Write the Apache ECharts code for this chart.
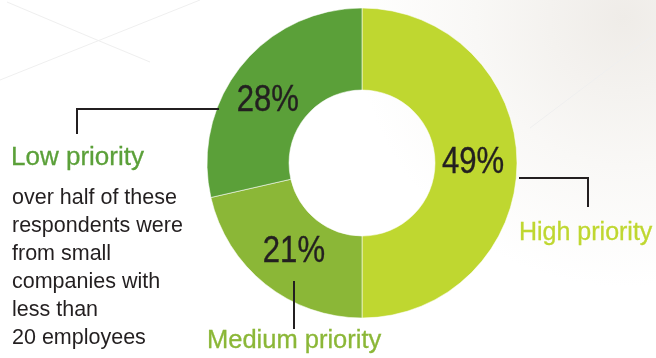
<!DOCTYPE html>
<html>
<head>
<meta charset="utf-8">
<script src="https://cdn.jsdelivr.net/npm/echarts@6/dist/echarts.min.js"></script>
<style>
  html, body { margin: 0; padding: 0; background: #ffffff; }
  #chart { width: 656px; height: 358px; }
</style>
</head>
<body>
<div id="chart"></div>
<script>
// ---- data ----
var categories = ['High priority', 'Medium priority', 'Low priority'];
var values = [49, 21, 28];
var colors = ['#bfd730', '#8bb737', '#5ba039'];
var noteLines = ['over half of these', 'respondents were', 'from small', 'companies with', 'less than', '20 employees'];

var chart = echarts.init(document.getElementById('chart'), null, { renderer: 'canvas' });
var ink = '#231f20';
var labelFont = '"Liberation Sans", Arial, sans-serif';

var baseGraphics = [];
// faint background plank lines
[[[0, 80], [200, 0]], [[7, 2], [97, 40], [150, 62]], [[530, 128], [656, 33]]].forEach(function (p) {
  baseGraphics.push({ type: 'polyline', silent: true, z: -10, shape: { points: p }, style: { stroke: '#efefef', lineWidth: 1, fill: null } });
});
// leader lines
var leaders = [
  [[519, 178], [588, 178], [588, 207]],
  [[294, 281], [294, 329]],
  [[219, 109], [77, 109], [77, 134]]
];
leaders.forEach(function (p) {
  baseGraphics.push({ type: 'polyline', z: 50, shape: { points: p }, style: { stroke: ink, lineWidth: 2, fill: null } });
});
// category names
var namePos = [[519, 233, 25], [207, 341, 25.5], [11, 157.5, 26]];
categories.forEach(function (c, i) {
  baseGraphics.push({ type: 'text', x: namePos[i][0], y: namePos[i][1], z: 50,
    style: { text: c, fill: colors[i], stroke: colors[i], lineWidth: 0.3, font: namePos[i][2] + 'px ' + labelFont, align: 'left', verticalAlign: 'middle' } });
});
// note
noteLines.forEach(function (t, i) {
  baseGraphics.push({ type: 'text', x: 12, y: 198 + i * 28, z: 50,
    style: { text: t, fill: ink, font: '21.5px ' + labelFont, align: 'left', verticalAlign: 'middle' } });
});

chart.setOption({
  backgroundColor: {
    type: 'radial', x: 0.95, y: 0.05, r: 0.75,
    colorStops: [{ offset: 0, color: '#efece8' }, { offset: 0.55, color: '#f9f8f6' }, { offset: 1, color: '#ffffff' }]
  },
  animation: false,
  series: [{
    type: 'pie',
    z: 2,
    center: [362, 163],
    radius: [73, 155],
    startAngle: 90,
    clockwise: true,
    itemStyle: { borderColor: 'rgba(255,255,255,0.55)', borderWidth: 1 },
    label: { show: false },
    labelLine: { show: false },
    data: categories.map(function (c, i) {
      return { name: c, value: values[i], itemStyle: { color: colors[i] } };
    })
  }],
  graphic: baseGraphics
});

// percentage labels placed from the pie's own computed layout
var labelShift = [[-3, 0], [3, 0], [-5, 9]];
var extra = [];
try {
  var pieData = chart.getModel().getSeriesByIndex(0).getData();
  values.forEach(function (v, i) {
    var L = pieData.getItemLayout(i);
    var mid = (L.startAngle + L.endAngle) / 2;
    var rm = (L.r0 + L.r) / 2;
    var x = L.cx + rm * Math.cos(mid) + labelShift[i][0];
    var y = L.cy + rm * Math.sin(mid) + labelShift[i][1];
    extra.push({ type: 'text', x: x, y: y, z: 100, zlevel: 0, scaleX: 0.84, scaleY: 1,
      style: { text: v + '%', fill: ink, stroke: ink, lineWidth: 0.4, font: '37px ' + labelFont, align: 'center', verticalAlign: 'middle' } });
  });
} catch (e) {
  extra.push({ type: 'text', x: 10, y: 20, z: 100, style: { text: 'ERR ' + e.message, fill: 'red', font: '12px sans-serif' } });
}
chart.setOption({ graphic: baseGraphics.concat(extra) });
</script>
</body>
</html>
